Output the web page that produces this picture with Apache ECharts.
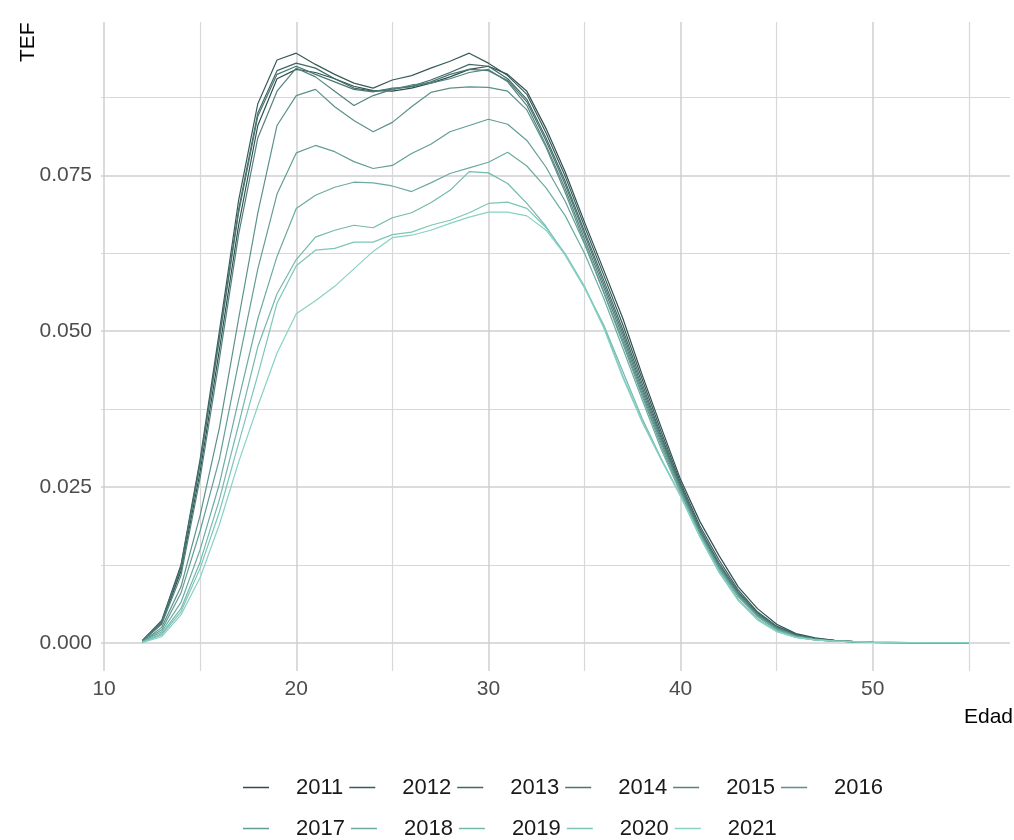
<!DOCTYPE html>
<html>
<head>
<meta charset="utf-8">
<script src="https://cdn.jsdelivr.net/npm/echarts@6/dist/echarts.min.js"></script>
<style>
html,body{margin:0;padding:0;background:#fff;}
#chart{width:1014px;height:840px;}
</style>
</head>
<body>
<div id="chart"></div>
<script>
// Ages (Edad)
const ages = [12,13,14,15,16,17,18,19,20,21,22,23,24,25,26,27,28,29,30,31,32,33,34,35,36,37,38,39,40,41,42,43,44,45,46,47,48,49,50,51,52,53,54,55];
const years = ['2011','2012','2013','2014','2015','2016','2017','2018','2019','2020','2021'];

const tef2011 = [0.0003,0.0032,0.0115,0.0275,0.0470,0.0670,0.0830,0.0905,0.0920,0.0915,0.0905,0.0893,0.0886,0.0885,0.0890,0.0898,0.0908,0.0920,0.0925,0.0912,0.0885,0.0825,0.0755,0.0675,0.0598,0.0520,0.0430,0.0345,0.0262,0.0195,0.0140,0.0090,0.0055,0.0030,0.0015,0.0008,0.0004,0.0002,0.00012,0.00008,0.00005,0.00004,0.00003,0.00003];
const tef2012 = [0.0004,0.0036,0.0125,0.0295,0.0500,0.0710,0.0865,0.0935,0.0946,0.0928,0.0912,0.0898,0.0890,0.0903,0.0910,0.0922,0.0933,0.0946,0.0930,0.0910,0.0880,0.0818,0.0748,0.0668,0.0590,0.0510,0.0423,0.0338,0.0257,0.0188,0.0133,0.0085,0.0050,0.0027,0.0014,0.0007,0.0004,0.0002,0.00011,0.00007,0.00005,0.00004,0.00003,0.00003];
const tef2013 = [0.0004,0.0035,0.0122,0.0290,0.0490,0.0695,0.0850,0.0918,0.0930,0.0922,0.0905,0.0890,0.0885,0.0888,0.0893,0.0903,0.0915,0.0928,0.0925,0.0905,0.0872,0.0810,0.0740,0.0660,0.0582,0.0502,0.0416,0.0332,0.0253,0.0184,0.0128,0.0082,0.0048,0.0026,0.0013,0.0007,0.0004,0.0002,0.00011,0.00007,0.00005,0.00004,0.00003,0.00003];
const tef2014 = [0.0004,0.0034,0.0120,0.0288,0.0488,0.0690,0.0845,0.0912,0.0925,0.0912,0.0900,0.0888,0.0884,0.0890,0.0892,0.0900,0.0912,0.0920,0.0918,0.0902,0.0868,0.0805,0.0735,0.0655,0.0576,0.0496,0.0410,0.0328,0.0250,0.0181,0.0125,0.0080,0.0046,0.0025,0.0012,0.0006,0.0003,0.0002,0.00010,0.00007,0.00005,0.00004,0.00003,0.00003];
const tef2015 = [0.0003,0.0030,0.0108,0.0265,0.0455,0.0655,0.0810,0.0885,0.0922,0.0908,0.0885,0.0862,0.0878,0.0888,0.0895,0.0898,0.0905,0.0915,0.0920,0.0900,0.0862,0.0798,0.0728,0.0648,0.0570,0.0490,0.0405,0.0324,0.0248,0.0179,0.0123,0.0078,0.0045,0.0024,0.0012,0.0006,0.0003,0.0002,0.00010,0.00007,0.00005,0.00004,0.00003,0.00003];
const tef2016 = [0.0002,0.0025,0.0090,0.0205,0.0345,0.0520,0.0690,0.0830,0.0878,0.0888,0.0860,0.0838,0.0820,0.0835,0.0860,0.0883,0.0890,0.0892,0.0891,0.0885,0.0855,0.0795,0.0722,0.0642,0.0563,0.0484,0.0400,0.0320,0.0245,0.0177,0.0121,0.0077,0.0044,0.0023,0.0011,0.0006,0.0003,0.0002,0.00010,0.00006,0.00005,0.00004,0.00003,0.00003];
const tef2017 = [0.0002,0.0021,0.0080,0.0180,0.0295,0.0450,0.0600,0.0720,0.0786,0.0798,0.0788,0.0772,0.0761,0.0766,0.0785,0.0800,0.0820,0.0830,0.0840,0.0832,0.0806,0.0763,0.0708,0.0640,0.0562,0.0480,0.0396,0.0315,0.0242,0.0175,0.0119,0.0075,0.0043,0.0022,0.0011,0.0005,0.0003,0.0002,0.00009,0.00006,0.00004,0.00003,0.00003,0.00003];
const tef2018 = [0.0002,0.0018,0.0065,0.0150,0.0255,0.0390,0.0520,0.0620,0.0697,0.0718,0.0731,0.0739,0.0738,0.0733,0.0724,0.0738,0.0753,0.0762,0.0771,0.0787,0.0765,0.0730,0.0685,0.0625,0.0553,0.0472,0.0390,0.0310,0.0240,0.0174,0.0118,0.0074,0.0042,0.0021,0.0010,0.0005,0.0003,0.0002,0.00009,0.00006,0.00004,0.00003,0.00003,0.00003];
const tef2019 = [0.0001,0.0015,0.0055,0.0130,0.0230,0.0350,0.0475,0.0560,0.0615,0.0651,0.0662,0.0670,0.0666,0.0682,0.0690,0.0706,0.0726,0.0756,0.0754,0.0737,0.0705,0.0668,0.0622,0.0570,0.0510,0.0435,0.0360,0.0295,0.0236,0.0172,0.0115,0.0070,0.0039,0.0019,0.0009,0.0005,0.0003,0.0002,0.00009,0.00006,0.00004,0.00003,0.00003,0.00003];
const tef2020 = [0.0001,0.0013,0.0050,0.0120,0.0210,0.0320,0.0430,0.0545,0.0605,0.0630,0.0633,0.0643,0.0643,0.0655,0.0659,0.0670,0.0678,0.0690,0.0705,0.0707,0.0697,0.0666,0.0624,0.0572,0.0508,0.0428,0.0356,0.0294,0.0236,0.0171,0.0114,0.0069,0.0038,0.0019,0.0009,0.0005,0.0003,0.0002,0.00009,0.00006,0.00004,0.00003,0.00003,0.00003];
const tef2021 = [0.0001,0.0010,0.0045,0.0105,0.0190,0.0290,0.0380,0.0465,0.0528,0.0549,0.0572,0.0600,0.0628,0.0650,0.0654,0.0662,0.0673,0.0683,0.0691,0.0691,0.0685,0.0662,0.0622,0.0570,0.0505,0.0425,0.0354,0.0293,0.0235,0.0170,0.0113,0.0068,0.0037,0.0018,0.0009,0.0005,0.0003,0.0002,0.00009,0.00006,0.00004,0.00003,0.00003,0.00003];

const xMajorTicks = [10,20,30,40,50];
const xMinorTicks = [15,25,35,45,55];
const yMajorTicks = [0,0.025,0.05,0.075];
const yMinorTicks = [0.0125,0.0375,0.0625,0.0875];

const seriesValues = [tef2011,tef2012,tef2013,tef2014,tef2015,tef2016,tef2017,tef2018,tef2019,tef2020,tef2021];
const colors = ['#2f4f4f','#385c5b','#406966','#497672','#52837e','#5b918a','#639e95','#6caba1','#75b8ad','#7dc5b8','#86d2c4'];

const FONT = '"Liberation Sans", Arial, sans-serif';

const series = years.map((y, i) => ({
  name: y,
  type: 'line',
  xAxisIndex: 0,
  yAxisIndex: 0,
  symbol: 'none',
  showSymbol: false,
  smooth: false,
  data: ages.map((a, k) => [a, seriesValues[i][k]]),
  lineStyle: { color: colors[i], width: 1.2 },
  itemStyle: { color: colors[i] },
  z: 3
}));

const chart = echarts.init(document.getElementById('chart'), null, { renderer: 'canvas' });
chart.setOption({
  animation: false,
  backgroundColor: '#ffffff',
  grid: { left: 101, right: 4, top: 22, bottom: 169, containLabel: false, outerBoundsMode: 'none' },
  xAxis: [
    {
      type: 'value', min: 9.84, max: 57.14,
      axisLine: { show: false },
      axisTick: { show: false, customValues: xMajorTicks },
      axisLabel: { customValues: xMajorTicks, fontFamily: FONT, fontSize: 21, color: '#4d4d4d', margin: 8 },
      splitLine: { show: true, lineStyle: { color: '#cfcfcf', width: 1.5 } }
    },
    {
      type: 'value', min: 9.84, max: 57.14, position: 'top',
      axisLine: { show: false },
      axisTick: { show: false, customValues: xMinorTicks },
      axisLabel: { show: false, customValues: xMinorTicks },
      splitLine: { show: true, lineStyle: { color: '#d8d8d8', width: 1.2 } }
    }
  ],
  yAxis: [
    {
      type: 'value', min: -0.0045, max: 0.0996,
      axisLine: { show: false },
      axisTick: { show: false, customValues: yMajorTicks },
      axisLabel: { customValues: yMajorTicks, fontFamily: FONT, fontSize: 21, color: '#4d4d4d', margin: 9,
        formatter: v => Number(v).toFixed(3) },
      splitLine: { show: true, lineStyle: { color: '#cfcfcf', width: 1.5 } }
    },
    {
      type: 'value', min: -0.0045, max: 0.0996, position: 'right',
      axisLine: { show: false },
      axisTick: { show: false, customValues: yMinorTicks },
      axisLabel: { show: false, customValues: yMinorTicks },
      splitLine: { show: true, lineStyle: { color: '#d8d8d8', width: 1.2 } }
    }
  ],
  legend: {
    data: years,
    left: 238, top: 765, width: 660,
    orient: 'horizontal',
    itemWidth: 48, itemHeight: 35, itemGap: 6,
    icon: 'path://M0,16.75h26v1.5h-26z M47.97,0h0.03v0.03h-0.03z M0,34.97h0.03v0.03h-0.03z',
    itemStyle: { borderWidth: 0 },
    textStyle: { fontFamily: FONT, fontSize: 22, color: '#1a1a1a' },
    selectedMode: false
  },
  graphic: [
    { type: 'text', x: 28, y: 62, rotation: Math.PI / 2,
      style: { text: 'TEF', fontFamily: FONT, fontSize: 21, fill: '#000', align: 'left', verticalAlign: 'middle' } },
    { type: 'text', x: 1013, y: 717,
      style: { text: 'Edad', fontFamily: FONT, fontSize: 21, fill: '#000', align: 'right', verticalAlign: 'middle' } }
  ],
  series: series
});
</script>
</body>
</html>
